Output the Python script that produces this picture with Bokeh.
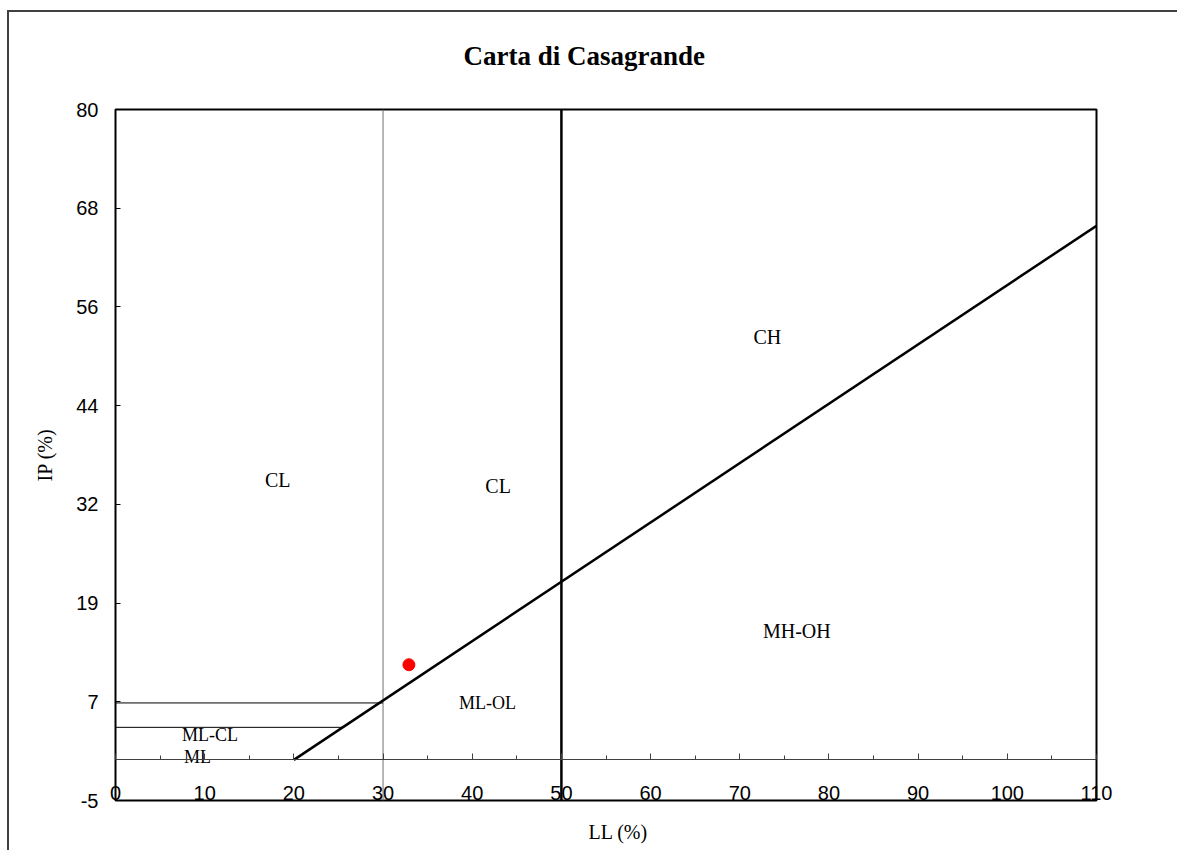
from bokeh.plotting import figure
from bokeh.models import Range1d, FixedTicker, SingleIntervalTicker, LinearAxis, Title
from bokeh.core.properties import value
from bokeh.embed import file_html
from bokeh.resources import INLINE

# ---- data ----
x_range_ll = [0, 110]
y_range_ip = [-5, 80]
ytick_labels = ["-5", "7", "19", "32", "44", "56", "68", "80"]

a_line_ll = [20, 110]
a_line_ip = [0, 65.7]

ll50_ll = [50, 50]
ll50_ip = [-5, 80]

ll30_ll = [30, 30]
ll30_ip = [-5, 80]

ip7_ll = [0, 30]
ip7_ip = [7, 7]

ip4_ll = [0, 25.5]
ip4_ip = [4, 4]

sample_ll = [32.9]
sample_ip = [11.7]

zone_big = ["CL", "CL", "CH", "MH-OH"]
zone_big_ll = [18.2, 42.9, 73.1, 76.4]
zone_big_ip = [34.4, 33.7, 52.0, 15.8]

zone_small = ["ML-OL", "ML-CL", "ML"]
zone_small_ll = [41.7, 10.6, 9.2]
zone_small_ip = [7.0, 3.0, 0.3]

title_text = "Carta di Casagrande"
x_title = "LL (%)"
y_title = "IP (%)"

# ---- figure ----
p = figure(width=1170, height=840, output_backend="svg", toolbar_location=None,
           title=None,
           x_range=Range1d(*x_range_ll), y_range=Range1d(*y_range_ip),
           min_border_left=106, min_border_top=97, min_border_right=83, min_border_bottom=52,
           x_axis_location=None, y_axis_location=None)
p.styles = {"margin-left": "7px", "margin-top": "10px",
            "border-left": "2px solid #404040", "border-top": "2px solid #404040"}
p.background_fill_color = "white"
p.border_fill_color = "white"
p.outline_line_color = "black"
p.outline_line_width = 2
p.xgrid.visible = False
p.ygrid.visible = False

# title: spacer next to the frame, then the title text
p.add_layout(Title(text=" ", text_font_size="1px", standoff=36), "above")
p.add_layout(Title(text=title_text, align="left", offset=348, standoff=0,
                   text_font="Liberation Serif", text_font_style="bold",
                   text_font_size="27px", text_color="black"), "above")

# y axis
n = len(ytick_labels)
yticks = [y_range_ip[0] + k * (y_range_ip[1] - y_range_ip[0]) / (n - 1) for k in range(n)]
yax = LinearAxis(ticker=FixedTicker(ticks=yticks))
yax.major_label_overrides = {t: lab for t, lab in zip(yticks, ytick_labels)}
yax.axis_line_color = None
yax.major_tick_in = 5
yax.major_tick_out = 0
yax.minor_tick_line_color = None
yax.major_tick_line_color = "black"
yax.major_label_standoff = 17
yax.major_label_text_font = "Liberation Sans"
yax.major_label_text_font_size = "20px"
yax.major_label_text_color = "black"
yax.axis_label = y_title
yax.axis_label_text_font = "Liberation Serif"
yax.axis_label_text_font_style = "normal"
yax.axis_label_text_font_size = "20px"
yax.axis_label_text_color = "black"
yax.axis_label_standoff = 17
p.add_layout(yax, "left")

# x axis ticks on the IP = 0 line
xtick_ax = LinearAxis(ticker=SingleIntervalTicker(interval=10, num_minor_ticks=2))
xtick_ax.fixed_location = 0
xtick_ax.axis_line_color = "#404040"
xtick_ax.axis_line_width = 1
xtick_ax.major_tick_in = 6
xtick_ax.major_tick_out = 0
xtick_ax.minor_tick_in = 4
xtick_ax.minor_tick_out = 0
xtick_ax.major_tick_line_color = "#404040"
xtick_ax.minor_tick_line_color = "#404040"
xtick_ax.major_label_text_font_size = "0px"
xtick_ax.major_label_text_color = None
p.add_layout(xtick_ax, "below")

# x tick labels on the frame bottom
xlab_ax = LinearAxis(ticker=SingleIntervalTicker(interval=10, num_minor_ticks=0))
xlab_ax.axis_line_color = None
xlab_ax.major_tick_line_color = None
xlab_ax.minor_tick_line_color = None
xlab_ax.major_tick_in = 0
xlab_ax.major_tick_out = 0
xlab_ax.major_label_standoff = -15
xlab_ax.major_label_text_font = "Liberation Sans"
xlab_ax.major_label_text_font_size = "20px"
xlab_ax.major_label_text_color = "black"
p.add_layout(xlab_ax, "below")

# x axis title: spacer, then the text
p.add_layout(Title(text=" ", text_font_size="1px", standoff=13), "below")
p.add_layout(Title(text=x_title, align="left", offset=473, standoff=0,
                   text_font="Liberation Serif", text_font_style="normal",
                   text_font_size="20px", text_color="black"), "below")

# lines
p.line(ll30_ll, ll30_ip, line_color="#707070", line_width=1)
p.line(ip7_ll, ip7_ip, line_color="black", line_width=1)
p.line(ip4_ll, ip4_ip, line_color="black", line_width=1)
p.line(a_line_ll, a_line_ip, line_color="black", line_width=2.5)
p.line(ll50_ll, ll50_ip, line_color="black", line_width=2.5)

p.scatter(sample_ll, sample_ip, size=12, color="red", line_color="red")

p.text(zone_big_ll, zone_big_ip, text=zone_big, text_align="center", text_baseline="middle",
       text_font=value("Liberation Serif"), text_font_size="20px", text_color="black")
p.text(zone_small_ll, zone_small_ip, text=zone_small, text_align="center", text_baseline="middle",
       text_font=value("Liberation Serif"), text_font_size="18px", text_color="black")

open("out.html", "w").write(file_html(p, INLINE))
